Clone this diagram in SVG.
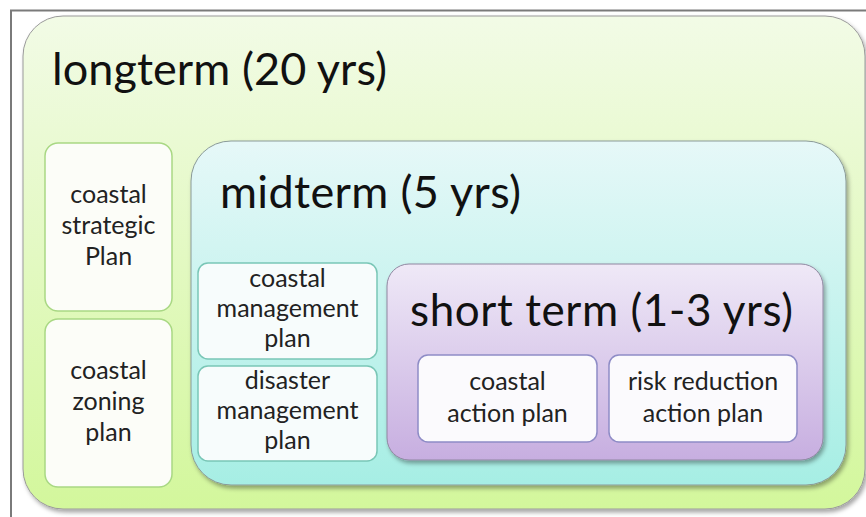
<svg xmlns="http://www.w3.org/2000/svg" width="866" height="517" viewBox="0 0 866 517">
  <defs>
    <linearGradient id="gLong" x1="0" y1="0" x2="0" y2="1">
      <stop offset="0" stop-color="#f2fbe6"/>
      <stop offset="1" stop-color="#d3f79c"/>
    </linearGradient>
    <linearGradient id="gMid" x1="0" y1="0" x2="0" y2="1">
      <stop offset="0" stop-color="#e6f8f8"/>
      <stop offset="1" stop-color="#a6eee4"/>
    </linearGradient>
    <linearGradient id="gShort" x1="0" y1="0" x2="0" y2="1">
      <stop offset="0" stop-color="#efe9f7"/>
      <stop offset="1" stop-color="#c7aee0"/>
    </linearGradient>
    <filter id="shadow" x="-5%" y="-5%" width="110%" height="115%">
      <feDropShadow dx="2" dy="3" stdDeviation="2" flood-color="#000" flood-opacity="0.35"/>
    </filter>
  </defs>
  <style>
    .title { font-family: Lato, "Open Sans", "Liberation Sans", sans-serif; fill: #111; }
    .lbl { font-family: Lato, "Open Sans", "Liberation Sans", sans-serif; font-size: 25px; fill: #222; text-anchor: middle; }
    .leftbox { fill: #fcfdf8; stroke: #a9d884; stroke-width: 1.5; }
    .midbox { fill: #f7fcfc; stroke: #79c6b6; stroke-width: 1.5; }
    .shortbox { fill: #fbfafd; stroke: #8e8cc6; stroke-width: 1.5; }
  </style>

  <rect width="866" height="517" fill="#ffffff"/>
  <!-- frame -->
  <path d="M11 517 V10.5 H866" fill="none" stroke="#7a7a7a" stroke-width="2"/>

  <g id="longterm">
    <rect x="23" y="16" width="842" height="493" rx="40" fill="url(#gLong)" stroke="#9a9a9a" stroke-width="1" filter="url(#shadow)"/>
    <text class="title" x="52" y="85" font-size="45" textLength="335">longterm (20 yrs)</text>
  </g>

  <g id="coastal-strategic-plan">
    <rect class="leftbox" x="45" y="143" width="127" height="168" rx="13"/>
    <text class="lbl" x="108.5" y="203">coastal</text>
    <text class="lbl" x="108.5" y="234">strategic</text>
    <text class="lbl" x="108.5" y="265">Plan</text>
  </g>

  <g id="coastal-zoning-plan">
    <rect class="leftbox" x="45" y="319" width="127" height="168" rx="13"/>
    <text class="lbl" x="108.5" y="379">coastal</text>
    <text class="lbl" x="108.5" y="410">zoning</text>
    <text class="lbl" x="108.5" y="441">plan</text>
  </g>

  <g id="midterm">
    <rect x="191" y="141" width="655" height="344" rx="40" fill="url(#gMid)" stroke="#8a9a98" stroke-width="1" filter="url(#shadow)"/>
    <text class="title" x="220" y="208" font-size="45" textLength="301">midterm (5 yrs)</text>
  </g>

  <g id="coastal-management-plan">
    <rect class="midbox" x="198" y="263" width="179" height="96" rx="10"/>
    <text class="lbl" x="287.5" y="287">coastal</text>
    <text class="lbl" x="287.5" y="317">management</text>
    <text class="lbl" x="287.5" y="347">plan</text>
  </g>

  <g id="disaster-management-plan">
    <rect class="midbox" x="198" y="366" width="179" height="95" rx="10"/>
    <text class="lbl" x="287.5" y="389">disaster</text>
    <text class="lbl" x="287.5" y="419">management</text>
    <text class="lbl" x="287.5" y="449">plan</text>
  </g>

  <g id="shortterm">
    <rect x="387" y="264" width="436" height="196" rx="22" fill="url(#gShort)" stroke="#8f86a0" stroke-width="1" filter="url(#shadow)"/>
    <text class="title" x="410" y="326" font-size="44" textLength="383">short term (1-3 yrs)</text>
  </g>

  <g id="coastal-action-plan">
    <rect class="shortbox" x="418" y="355" width="179" height="87" rx="10"/>
    <text class="lbl" x="507.5" y="390">coastal</text>
    <text class="lbl" x="507.5" y="422">action plan</text>
  </g>

  <g id="risk-reduction-action-plan">
    <rect class="shortbox" x="609" y="355" width="188" height="87" rx="10"/>
    <text class="lbl" x="703" y="390">risk reduction</text>
    <text class="lbl" x="703" y="422">action plan</text>
  </g>

  <g id="connectors"></g>
</svg>
